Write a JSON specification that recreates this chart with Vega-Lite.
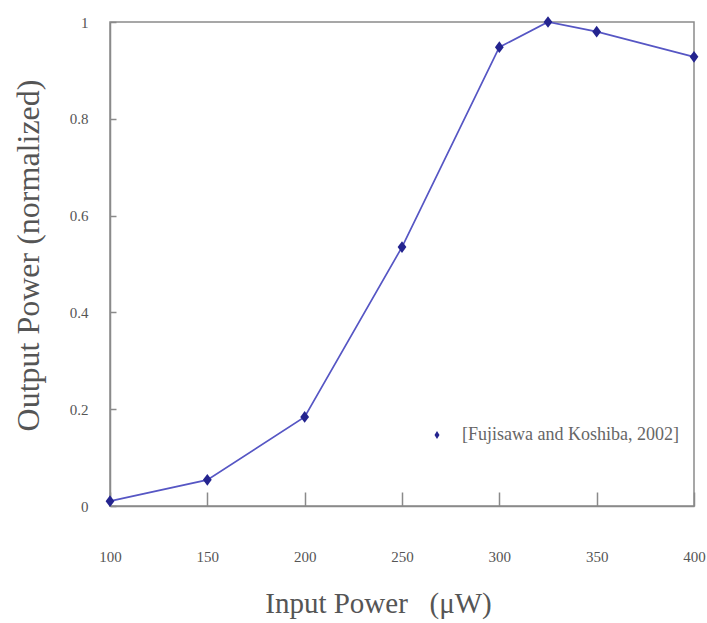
{
  "$schema": "https://vega.github.io/schema/vega-lite/v6.json",
  "width": 584,
  "height": 484,
  "autosize": "none",
  "padding": {"left": 110, "top": 22, "right": 13, "bottom": 117},
  "background": "white",
  "config": {
    "view": {"stroke": "#8a8a8a", "strokeWidth": 1.5},
    "font": "Liberation Serif",
    "axis": {"labelFont": "Liberation Serif", "titleFont": "Liberation Serif"},
    "legend": {"labelFont": "Liberation Serif"}
  },
  "data": {
    "values": [
      {"input": 100, "output": 0.01, "series": "[Fujisawa and Koshiba, 2002]"},
      {"input": 150, "output": 0.054, "series": "[Fujisawa and Koshiba, 2002]"},
      {"input": 200, "output": 0.184, "series": "[Fujisawa and Koshiba, 2002]"},
      {"input": 250, "output": 0.535, "series": "[Fujisawa and Koshiba, 2002]"},
      {"input": 300, "output": 0.948, "series": "[Fujisawa and Koshiba, 2002]"},
      {"input": 325, "output": 1.0, "series": "[Fujisawa and Koshiba, 2002]"},
      {"input": 350, "output": 0.98, "series": "[Fujisawa and Koshiba, 2002]"},
      {"input": 400, "output": 0.928, "series": "[Fujisawa and Koshiba, 2002]"}
    ]
  },
  "encoding": {
    "x": {
      "field": "input", "type": "quantitative",
      "scale": {"domain": [100, 400], "nice": false, "zero": false},
      "axis": {
        "values": [100, 150, 200, 250, 300, 350, 400],
        "title": "Input Power\u00a0\u00a0 (μW)",
        "titleFont": "Liberation Serif", "titleFontSize": 29, "titleFontWeight": "normal",
        "titleColor": "#555555", "titlePadding": 25, "titleX": 268,
        "labelFont": "Liberation Serif", "labelFontSize": 15, "labelColor": "#555555",
        "labelPadding": 57, "labelFlush": false, "labelOverlap": false,
        "domainColor": "#8a8a8a", "domainWidth": 1.5,
        "tickColor": "#8a8a8a", "tickWidth": 1.5, "tickSize": -14,
        "grid": false
      }
    },
    "y": {
      "field": "output", "type": "quantitative",
      "scale": {"domain": [0, 1], "nice": false},
      "axis": {
        "values": [0, 0.2, 0.4, 0.6, 0.8, 1],
        "format": "~g",
        "title": "Output Power (normalized)",
        "titleFont": "Liberation Serif", "titleFontSize": 32, "titleFontWeight": "normal",
        "titleColor": "#555555", "titlePadding": 24, "titleY": 233,
        "labelFont": "Liberation Serif", "labelFontSize": 15, "labelColor": "#555555",
        "labelPadding": 28, "labelFlush": false,
        "domainColor": "#8a8a8a", "domainWidth": 1.5,
        "tickColor": "#8a8a8a", "tickWidth": 1.5, "tickSize": -6,
        "grid": false
      }
    }
  },
  "layer": [
    {
      "mark": {"type": "line", "color": "#5656c4", "strokeWidth": 1.7},
      "encoding": {}
    },
    {
      "mark": {"type": "point", "filled": true, "opacity": 1, "shape": "M0,-1.2L0.9,0L0,1.2L-0.9,0Z", "size": 95},
      "encoding": {
        "color": {
          "field": "series", "type": "nominal",
          "scale": {"range": ["#24248f"]},
          "legend": {
            "title": null, "orient": "none", "legendX": 318, "legendY": 404,
            "labelFont": "Liberation Serif", "labelFontSize": 18, "labelColor": "#666666",
            "symbolSize": 40, "symbolType": "M0,-1.3L0.8,0L0,1.3L-0.8,0Z", "labelOffset": 16, "labelLimit": 400
          }
        }
      }
    }
  ]
}
